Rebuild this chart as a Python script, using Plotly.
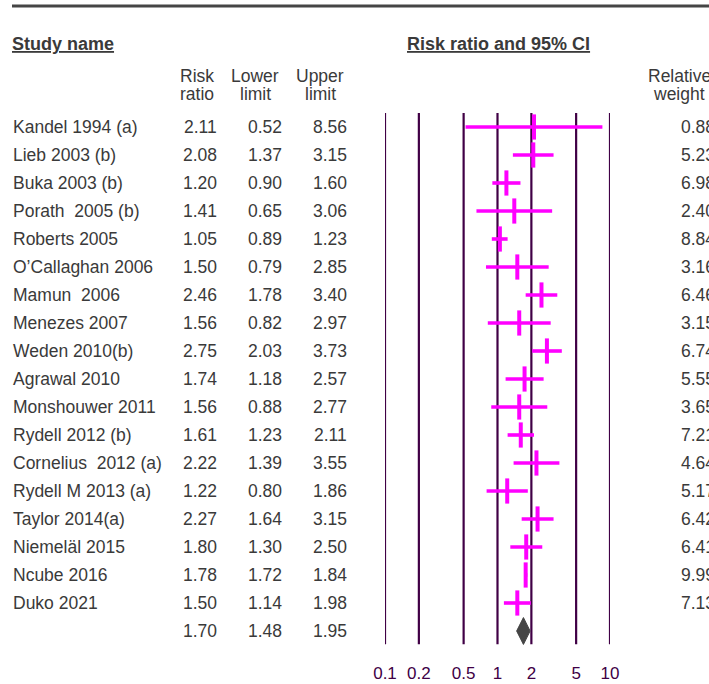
import plotly.graph_objects as go

# Forest plot: risk ratios with 95% confidence intervals
studies = ["Kandel 1994 (a)", "Lieb 2003 (b)", "Buka 2003 (b)", "Porath  2005 (b)",
           "Roberts 2005", "O’Callaghan 2006", "Mamun  2006", "Menezes 2007",
           "Weden 2010(b)", "Agrawal 2010", "Monshouwer 2011", "Rydell 2012 (b)",
           "Cornelius  2012 (a)", "Rydell M 2013 (a)", "Taylor 2014(a)",
           "Niemeläl 2015", "Ncube 2016", "Duko 2021"]
risk_ratio = [2.11, 2.08, 1.20, 1.41, 1.05, 1.50, 2.46, 1.56, 2.75, 1.74,
              1.56, 1.61, 2.22, 1.22, 2.27, 1.80, 1.78, 1.50]
lower = [0.52, 1.37, 0.90, 0.65, 0.89, 0.79, 1.78, 0.82, 2.03, 1.18,
         0.88, 1.23, 1.39, 0.80, 1.64, 1.30, 1.72, 1.14]
upper = [8.56, 3.15, 1.60, 3.06, 1.23, 2.85, 3.40, 2.97, 3.73, 2.57,
         2.77, 2.11, 3.55, 1.86, 3.15, 2.50, 1.84, 1.98]
weights = [0.88, 5.23, 6.98, 2.40, 8.84, 3.16, 6.46, 3.15, 6.74, 5.55,
           3.65, 7.21, 4.64, 5.17, 6.42, 6.41, 9.99, 7.13]
pooled = (1.70, 1.48, 1.95)
tick_values = [0.1, 0.2, 0.5, 1, 2, 5, 10]
tick_labels = ["0.1", "0.2", "0.5", "1", "2", "5", "10"]

W, H = 709, 684
ROW0, ROW_H = 127, 28          # pixel centre of the first row, row pitch
TEXT = "#3a3a3a"
GRID = "#400045"
MAGENTA = "#ff00ff"
FONT = "Liberation Sans, Arial, sans-serif"
BODY = 17.5
HEAD = 18

n = len(studies)
summary_row = n
row_of = list(range(n))


def px_x(p):
    return p / W


def px_y(p):
    return 1 - p / H


fig = go.Figure()

# reference lines at each tick value
for v in tick_values:
    fig.add_trace(go.Scatter(x=[v, v], y=[-0.5, summary_row + 0.47], mode="lines",
                             line=dict(color=GRID, width=2.2), hoverinfo="skip",
                             showlegend=False))

# confidence-interval bars
xs, ys = [], []
for i in row_of:
    xs += [lower[i], upper[i], None]
    ys += [i, i, None]
fig.add_trace(go.Scatter(x=xs, y=ys, mode="lines",
                         line=dict(color=MAGENTA, width=3.6), showlegend=False))

# point estimates
fig.add_trace(go.Scatter(x=risk_ratio, y=row_of, mode="markers",
                         marker=dict(symbol="line-ns", size=18,
                                     line=dict(color=MAGENTA, width=4)),
                         showlegend=False))

# pooled estimate diamond
est, lo, hi = pooled
h = 0.48
fig.add_trace(go.Scatter(x=[lo, est, hi, est, lo],
                         y=[summary_row, summary_row - h, summary_row, summary_row + h, summary_row],
                         mode="lines", fill="toself", fillcolor="#454545",
                         line=dict(color="#454545", width=1), showlegend=False))

# axis tick labels under the reference lines
fig.add_trace(go.Scatter(x=tick_values, y=[summary_row + 1.57] * len(tick_values),
                         mode="text", text=tick_labels, cliponaxis=False,
                         textfont=dict(family=FONT, size=17, color="#400045"),
                         textposition="middle center", showlegend=False))

ann = []


def add_text(x, y, text, xanchor="left", yref="y", size=BODY, color=TEXT):
    ann.append(dict(x=x, y=y, xref="paper", yref=yref, text=text, showarrow=False,
                    xanchor=xanchor, yanchor="middle", borderpad=0,
                    font=dict(family=FONT, size=size, color=color)))


# table rows
for i in row_of:
    add_text(px_x(12), i, studies[i])
    add_text(px_x(218), i, f"{risk_ratio[i]:.2f}", "right")
    add_text(px_x(283), i, f"{lower[i]:.2f}", "right")
    add_text(px_x(348), i, f"{upper[i]:.2f}", "right")
    add_text(px_x(680), i, f"{weights[i]:.2f}")
add_text(px_x(218), summary_row, f"{pooled[0]:.2f}", "right")
add_text(px_x(283), summary_row, f"{pooled[1]:.2f}", "right")
add_text(px_x(348), summary_row, f"{pooled[2]:.2f}", "right")

# column headers
add_text(px_x(11), px_y(44), "<b><u>Study name</u></b>", "left", "paper", HEAD)
add_text(px_x(498), px_y(44), "<b><u>Risk ratio and 95% CI</u></b>", "center", "paper", HEAD)
for cx, top, bottom in [(197, "Risk", "ratio"), (255, "Lower", "limit"),
                        (320, "Upper", "limit"), (679, "Relative", "weight")]:
    add_text(px_x(cx), px_y(76), top, "center", "paper")
    add_text(px_x(cx), px_y(94), bottom, "center", "paper")

fig.update_layout(
    width=W, height=H,
    margin=dict(l=0, r=0, t=0, b=0),
    paper_bgcolor="white", plot_bgcolor="white",
    xaxis=dict(type="log", range=[-1, 1], domain=[px_x(385), px_x(610)],
               visible=False),
    yaxis=dict(range=[(H - ROW0) / ROW_H, -ROW0 / ROW_H], domain=[0, 1],
               visible=False),
    annotations=ann,
    shapes=[dict(type="line", xref="paper", yref="paper", x0=px_x(12), x1=1,
                 y0=px_y(6), y1=px_y(6), line=dict(color="#454545", width=3))],
)

fig.write_html("out.html")
